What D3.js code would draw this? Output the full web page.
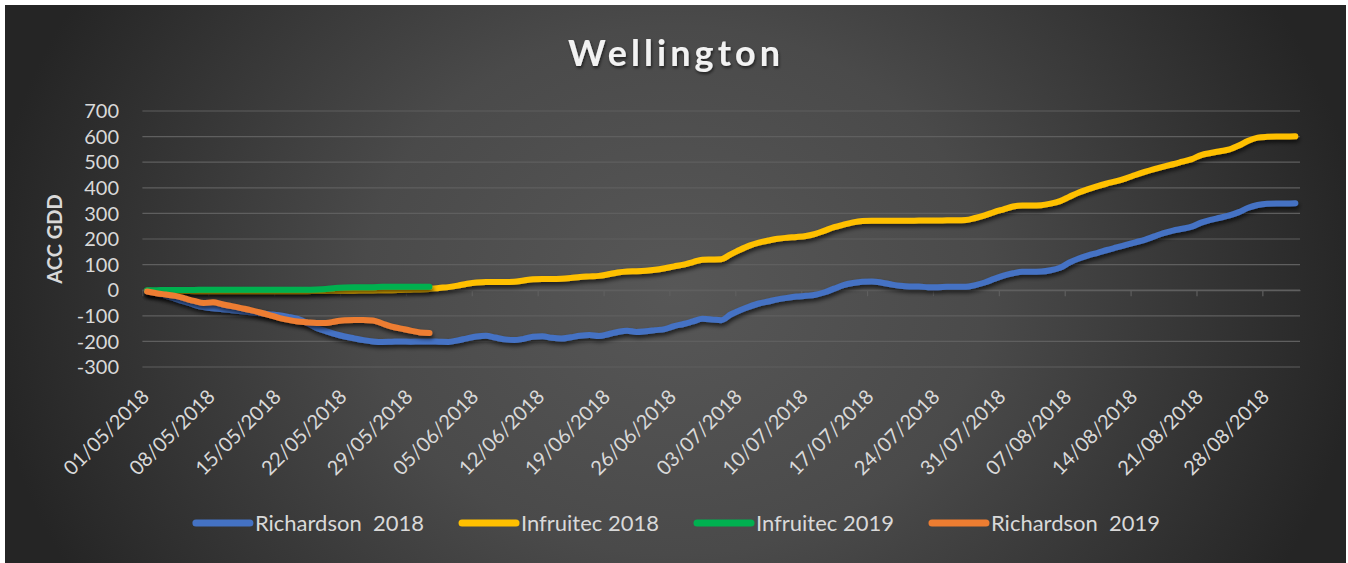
<!DOCTYPE html>
<html>
<head>
<meta charset="utf-8">
<script src="https://cdn.jsdelivr.net/npm/d3@7"></script>
<style>
  body { margin: 0; background: #fff; }
  svg { display: block; font-family: Lato, "Open Sans", sans-serif; }
</style>
</head>
<body>
<svg id="chart" width="1348" height="563"></svg>
<script>
(function () {
    'use strict';

    const WIDTH = 1348;
    const HEIGHT = 563;

    // daily categories, 01/05/2018 .. 31/08/2018
    const startDate = new Date(2018, 4, 1);
    const endDate = new Date(2018, 8, 1);
    const days = d3.timeDay.range(startDate, endDate);
    const tickDates = d3.timeDay.range(startDate, endDate, 7);

    const yTicks = [-300, -200, -100, 0, 100, 200, 300, 400, 500, 600, 700];

    const seriesNames = ["Richardson  2018", "Infruitec 2018", "Infruitec 2019", "Richardson  2019"];
    const seriesColors = ["#4472C4", "#FFC000", "#00B050", "#ED7D31"];

    const richardson2018 = [
        -5, -12, -22, -34, -45, -57, -66, -71, -74, -78,
        -82, -86, -90, -94, -98, -104, -112, -128, -148, -160,
        -172, -181, -188, -195, -200, -202, -201, -200, -201, -200,
        -200, -201, -202, -196, -188, -181, -178, -185, -192, -195,
        -190, -182, -180, -186, -189, -184, -178, -175, -179, -172,
        -163, -158, -163, -160, -156, -152, -140, -132, -122, -112,
        -114, -117, -95, -78, -64, -52, -44, -36, -30, -25,
        -22, -18, -8, 6, 20, 28, 33, 34, 30, 23,
        17, 14, 14, 12, 12, 13, 13, 13, 20, 30,
        44, 57, 66, 72, 72, 73, 78, 88, 108, 124,
        136, 146, 157, 167, 177, 187, 197, 210, 223, 233,
        240, 248, 264, 275, 283, 292, 305, 322, 333, 338,
        339, 339, 340
    ];

    const infruitec2018 = [
        -2, -3, -3, -3, -3, -4, -4, -4, -4, -4,
        -4, -4, -4, -4, -4, -4, -4, -4, -3, -3,
        -2, -2, -2, -1, -1, 0, 0, 1, 2, 3,
        5, 9, 12, 18, 25, 30, 32, 32, 32, 33,
        38, 43, 44, 44, 45, 48, 52, 54, 56, 62,
        69, 73, 74, 76, 80, 86, 93, 100, 110, 119,
        120, 121, 140, 158, 174, 186, 194, 201, 205, 208,
        212, 220, 233, 246, 256, 265, 270, 271, 271, 271,
        271, 271, 272, 272, 272, 273, 273, 274, 282, 292,
        305, 316, 327, 331, 331, 332, 338, 348, 365, 382,
        395, 407, 417, 426, 437, 450, 462, 473, 483, 492,
        502, 512, 528, 536, 543, 550, 565, 584, 596, 599,
        600, 600, 601
    ];

    const infruitec2019 = [
        0, 0, 1, 1, 1, 1, 2, 2, 2, 2,
        2, 2, 2, 2, 2, 2, 2, 2, 3, 5,
        9, 11, 12, 12, 12, 13, 13, 13, 13, 13,
        13
    ];

    const richardson2019 = [
        -5, -12, -17, -22, -32, -42, -50, -47, -55, -62,
        -70, -78, -87, -97, -108, -116, -122, -125, -128, -128,
        -122, -117, -116, -116, -118, -130, -142, -150, -158, -165,
        -167
    ];

    const series = [richardson2018, infruitec2018, infruitec2019, richardson2019];

    const svg = d3.select('#chart');
    const defs = svg.append('defs');

    const grad = defs.append('radialGradient')
        .attr('id', 'bg')
        .attr('gradientUnits', 'userSpaceOnUse')
        .attr('cx', 675).attr('cy', 290).attr('r', 690)
        .attr('gradientTransform', 'translate(675,290) scale(1,0.85) translate(-675,-290)');
    grad.append('stop').attr('offset', 0).attr('stop-color', '#575757');
    grad.append('stop').attr('offset', 0.45).attr('stop-color', '#4a4a4a');
    grad.append('stop').attr('offset', 1).attr('stop-color', '#252525');

    const shadow = defs.append('filter')
        .attr('id', 'shadow')
        .attr('filterUnits', 'userSpaceOnUse')
        .attr('x', 0).attr('y', 0).attr('width', WIDTH).attr('height', HEIGHT);
    shadow.append('feDropShadow')
        .attr('dx', 1).attr('dy', 3).attr('stdDeviation', 2.2)
        .attr('flood-color', '#000').attr('flood-opacity', 0.65);

    const textShadow = defs.append('filter')
        .attr('id', 'textShadow')
        .attr('filterUnits', 'userSpaceOnUse')
        .attr('x', 0).attr('y', 0).attr('width', WIDTH).attr('height', HEIGHT);
    textShadow.append('feDropShadow')
        .attr('dx', 1).attr('dy', 2).attr('stdDeviation', 1.5)
        .attr('flood-color', '#000').attr('flood-opacity', 0.6);

    svg.append('rect')
        .attr('x', 5).attr('y', 5)
        .attr('width', 1341).attr('height', 558)
        .attr('fill', 'url(#bg)');

    const x = d3.scaleTime().domain([startDate, endDate]).range([142.4, 1300]);
    const y = d3.scaleLinear().domain([-300, 700]).range([367, 111]);

    // gridlines
    svg.append('g')
        .selectAll('line')
        .data(yTicks)
        .join('line')
        .attr('x1', x.range()[0]).attr('x2', x.range()[1])
        .attr('y1', d => y(d)).attr('y2', d => y(d))
        .attr('stroke', '#5f5f5f')
        .attr('stroke-width', 1.2);

    // y labels
    svg.append('g')
        .selectAll('text')
        .data(yTicks)
        .join('text')
        .attr('x', 119)
        .attr('y', d => y(d))
        .attr('dy', '0.36em')
        .attr('text-anchor', 'end')
        .attr('fill', '#d9d9d9')
        .attr('font-size', 20)
        .text(d => d);

    // x axis at zero
    const xAxis = d3.axisBottom(x)
        .tickValues(tickDates)
        .tickSize(6)
        .tickSizeOuter(0)
        .tickFormat('');
    const axisG = svg.append('g')
        .attr('transform', `translate(0,${y(0)})`)
        .call(xAxis);
    axisG.selectAll('line, path').attr('stroke', '#5f5f5f').attr('stroke-width', 1.2);

    // x labels at the bottom of the plot
    const fmt = d3.timeFormat('%d/%m/%Y');
    svg.append('g')
        .selectAll('text')
        .data(tickDates)
        .join('text')
        .attr('transform', d => `translate(${x(d) + 8},398) rotate(-45)`)
        .attr('text-anchor', 'end')
        .attr('fill', '#d9d9d9')
        .attr('font-size', 20)
        .text(d => fmt(d));

    // lines
    const line = d3.line()
        .x((d, i) => x(d3.timeHour.offset(days[i], 12)))
        .y(d => y(d))
        .curve(d3.curveMonotoneX);

    svg.append('g')
        .selectAll('path')
        .data(series)
        .join('path')
        .attr('d', d => line(d))
        .attr('fill', 'none')
        .attr('stroke', (d, i) => seriesColors[i])
        .attr('stroke-width', 6)
        .attr('stroke-linecap', 'round')
        .attr('stroke-linejoin', 'round')
        .attr('filter', 'url(#shadow)');

    // title
    svg.append('text')
        .attr('x', 674)
        .attr('y', 66)
        .attr('text-anchor', 'middle')
        .attr('fill', '#f2f2f2')
        .attr('font-size', 36)
        .attr('font-weight', 'bold')
        .attr('textLength', 212)
        .attr('lengthAdjust', 'spacing')
        .attr('filter', 'url(#textShadow)')
        .text('Wellington');

    // y axis title
    svg.append('text')
        .attr('transform', 'translate(62,239) rotate(-90)')
        .attr('text-anchor', 'middle')
        .attr('fill', '#d9d9d9')
        .attr('font-size', 20)
        .attr('font-weight', 'bold')
        .text('ACC GDD');

    // legend
    const legend = svg.append('g').attr('transform', 'translate(0,523)');
    const items = legend.selectAll('g')
        .data(seriesNames)
        .join('g');
    items.append('line')
        .attr('x1', 0).attr('x2', 54)
        .attr('stroke', (d, i) => seriesColors[i])
        .attr('stroke-width', 7)
        .attr('stroke-linecap', 'round');
    items.append('text')
        .attr('x', 59)
        .attr('dy', '0.36em')
        .attr('fill', '#d9d9d9')
        .attr('font-size', 22)
        .style('white-space', 'pre')
        .text(d => d);

    let widths = [];
    items.each(function () {
        widths.push(59 + this.querySelector('text').getComputedTextLength());
    });
    const gap = 38;
    const total = d3.sum(widths) + gap * (widths.length - 1);
    let pos = 678 - total / 2;
    items.attr('transform', (d, i) => {
        const t = `translate(${pos},0)`;
        pos += widths[i] + gap;
        return t;
    });
})();
</script>
</body>
</html>
